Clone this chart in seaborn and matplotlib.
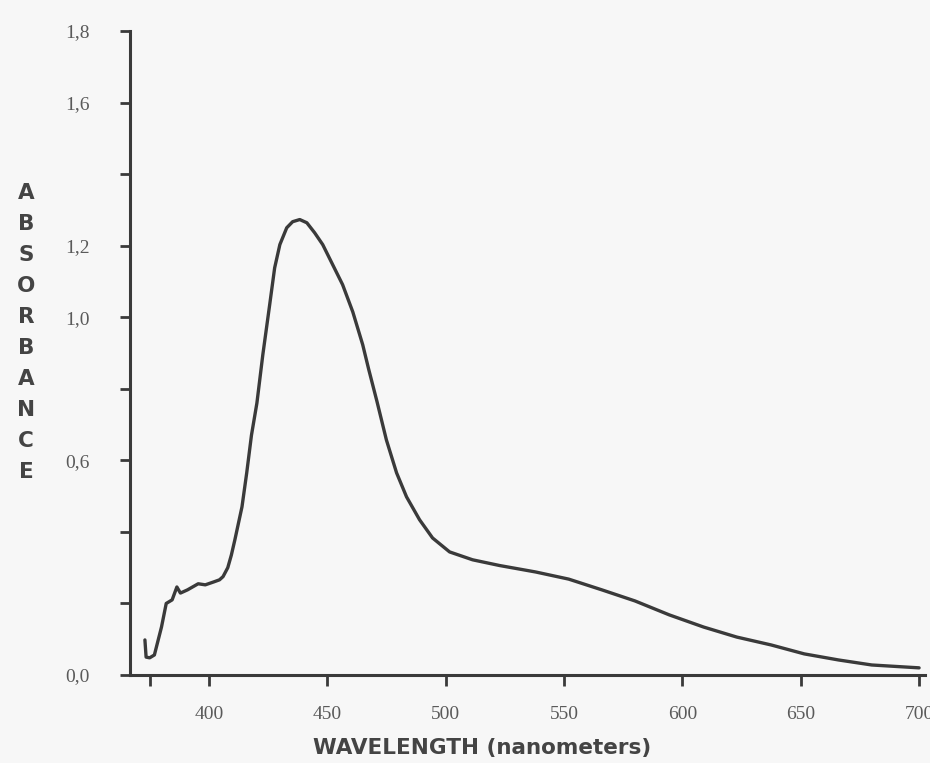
import matplotlib
matplotlib.use("Agg")
import matplotlib.pyplot as plt
import seaborn as sns
import pandas as pd

# ---- data ----
wavelength = [373, 373.5, 375, 377, 380, 382, 384.5, 386.5, 388, 391, 395.5,
              398.5, 402, 404.5, 406, 408, 409.5, 411, 414, 416, 418, 420.3,
              422.8, 425.7, 427.8, 430, 432.9, 435.4, 438.4, 441.4, 444.7,
              448.1, 452.3, 456.5, 460.8, 465, 467.5, 471, 475, 479.3, 483.5,
              489, 494.5, 501.7, 511.4, 522.8, 538, 552, 566, 580, 594.5, 609,
              623, 637.5, 651.5, 666, 680, 700]
absorbance = [0.098, 0.050, 0.048, 0.056, 0.134, 0.200, 0.210, 0.246, 0.229,
              0.238, 0.255, 0.252, 0.260, 0.266, 0.275, 0.300, 0.335, 0.378,
              0.470, 0.565, 0.670, 0.760, 0.895, 1.035, 1.138, 1.203, 1.250,
              1.267, 1.273, 1.264, 1.236, 1.203, 1.147, 1.091, 1.015, 0.923,
              0.855, 0.765, 0.657, 0.565, 0.498, 0.434, 0.383, 0.344, 0.322,
              0.306, 0.288, 0.268, 0.238, 0.207, 0.168, 0.134, 0.106, 0.084,
              0.059, 0.042, 0.028, 0.020]

x_ticks = [375, 400, 450, 500, 550, 600, 650, 700]
x_tick_labels = ["", "400", "450", "500", "550", "600", "650", "700"]
y_ticks = [0.0, 0.2, 0.4, 0.6, 0.8, 1.0, 1.2, 1.4, 1.6, 1.8]
y_tick_labels = ["0,0", "", "", "0,6", "", "1,0", "1,2", "", "1,6", "1,8"]
y_label = "ABSORBANCE"
x_label = "WAVELENGTH (nanometers)"

df = pd.DataFrame({"wavelength": wavelength, "absorbance": absorbance})

sns.set_style("ticks")
plt.rcParams["font.family"] = ["DejaVu Sans"]

BG = "#f7f7f7"
INK = "#3a3a3a"
TICKC = "#5a5a5a"

fig = plt.figure(figsize=(9.30, 7.63), dpi=100, facecolor=BG)
ax = fig.add_axes([130 / 930, 88 / 763, 795 / 930, 644 / 763])
ax.set_facecolor(BG)

sns.lineplot(data=df, x="wavelength", y="absorbance", ax=ax,
             color=INK, linewidth=2.4, sort=False, estimator=None)
for ln in ax.get_lines():
    ln.set_solid_joinstyle("round")
    ln.set_solid_capstyle("round")

ax.set_xlim(366.7, 702.5)
ax.set_ylim(0, 1.8)

ax.set_xticks(x_ticks)
ax.set_xticklabels(x_tick_labels, family="Liberation Serif", fontsize=14,
                   color=TICKC)
ax.set_yticks(y_ticks)
ax.set_yticklabels(y_tick_labels, family="Liberation Serif", fontsize=14,
                   color=TICKC)

ax.tick_params(axis="x", direction="out", length=8, width=2, color=INK, pad=14)
ax.tick_params(axis="y", direction="out", length=7, width=2, color=INK, pad=22)

for side in ["top", "right"]:
    ax.spines[side].set_visible(False)
for side in ["left", "bottom"]:
    ax.spines[side].set_color(INK)
    ax.spines[side].set_linewidth(2.2)

ax.set_xlabel("")
ax.set_ylabel("")

# vertical stacked y-axis label
for i, ch in enumerate(y_label):
    fig.text(26 / 930, 1 - (193 + 31 * i) / 763, ch, ha="center", va="center",
             fontsize=15.5, fontweight="bold", color="#444444")

fig.text(313 / 930, 1 - 748 / 763, x_label, ha="left", va="center",
         fontsize=15.5, fontweight="bold", color="#444444")

fig.savefig("out.png", dpi=100, facecolor=BG)
